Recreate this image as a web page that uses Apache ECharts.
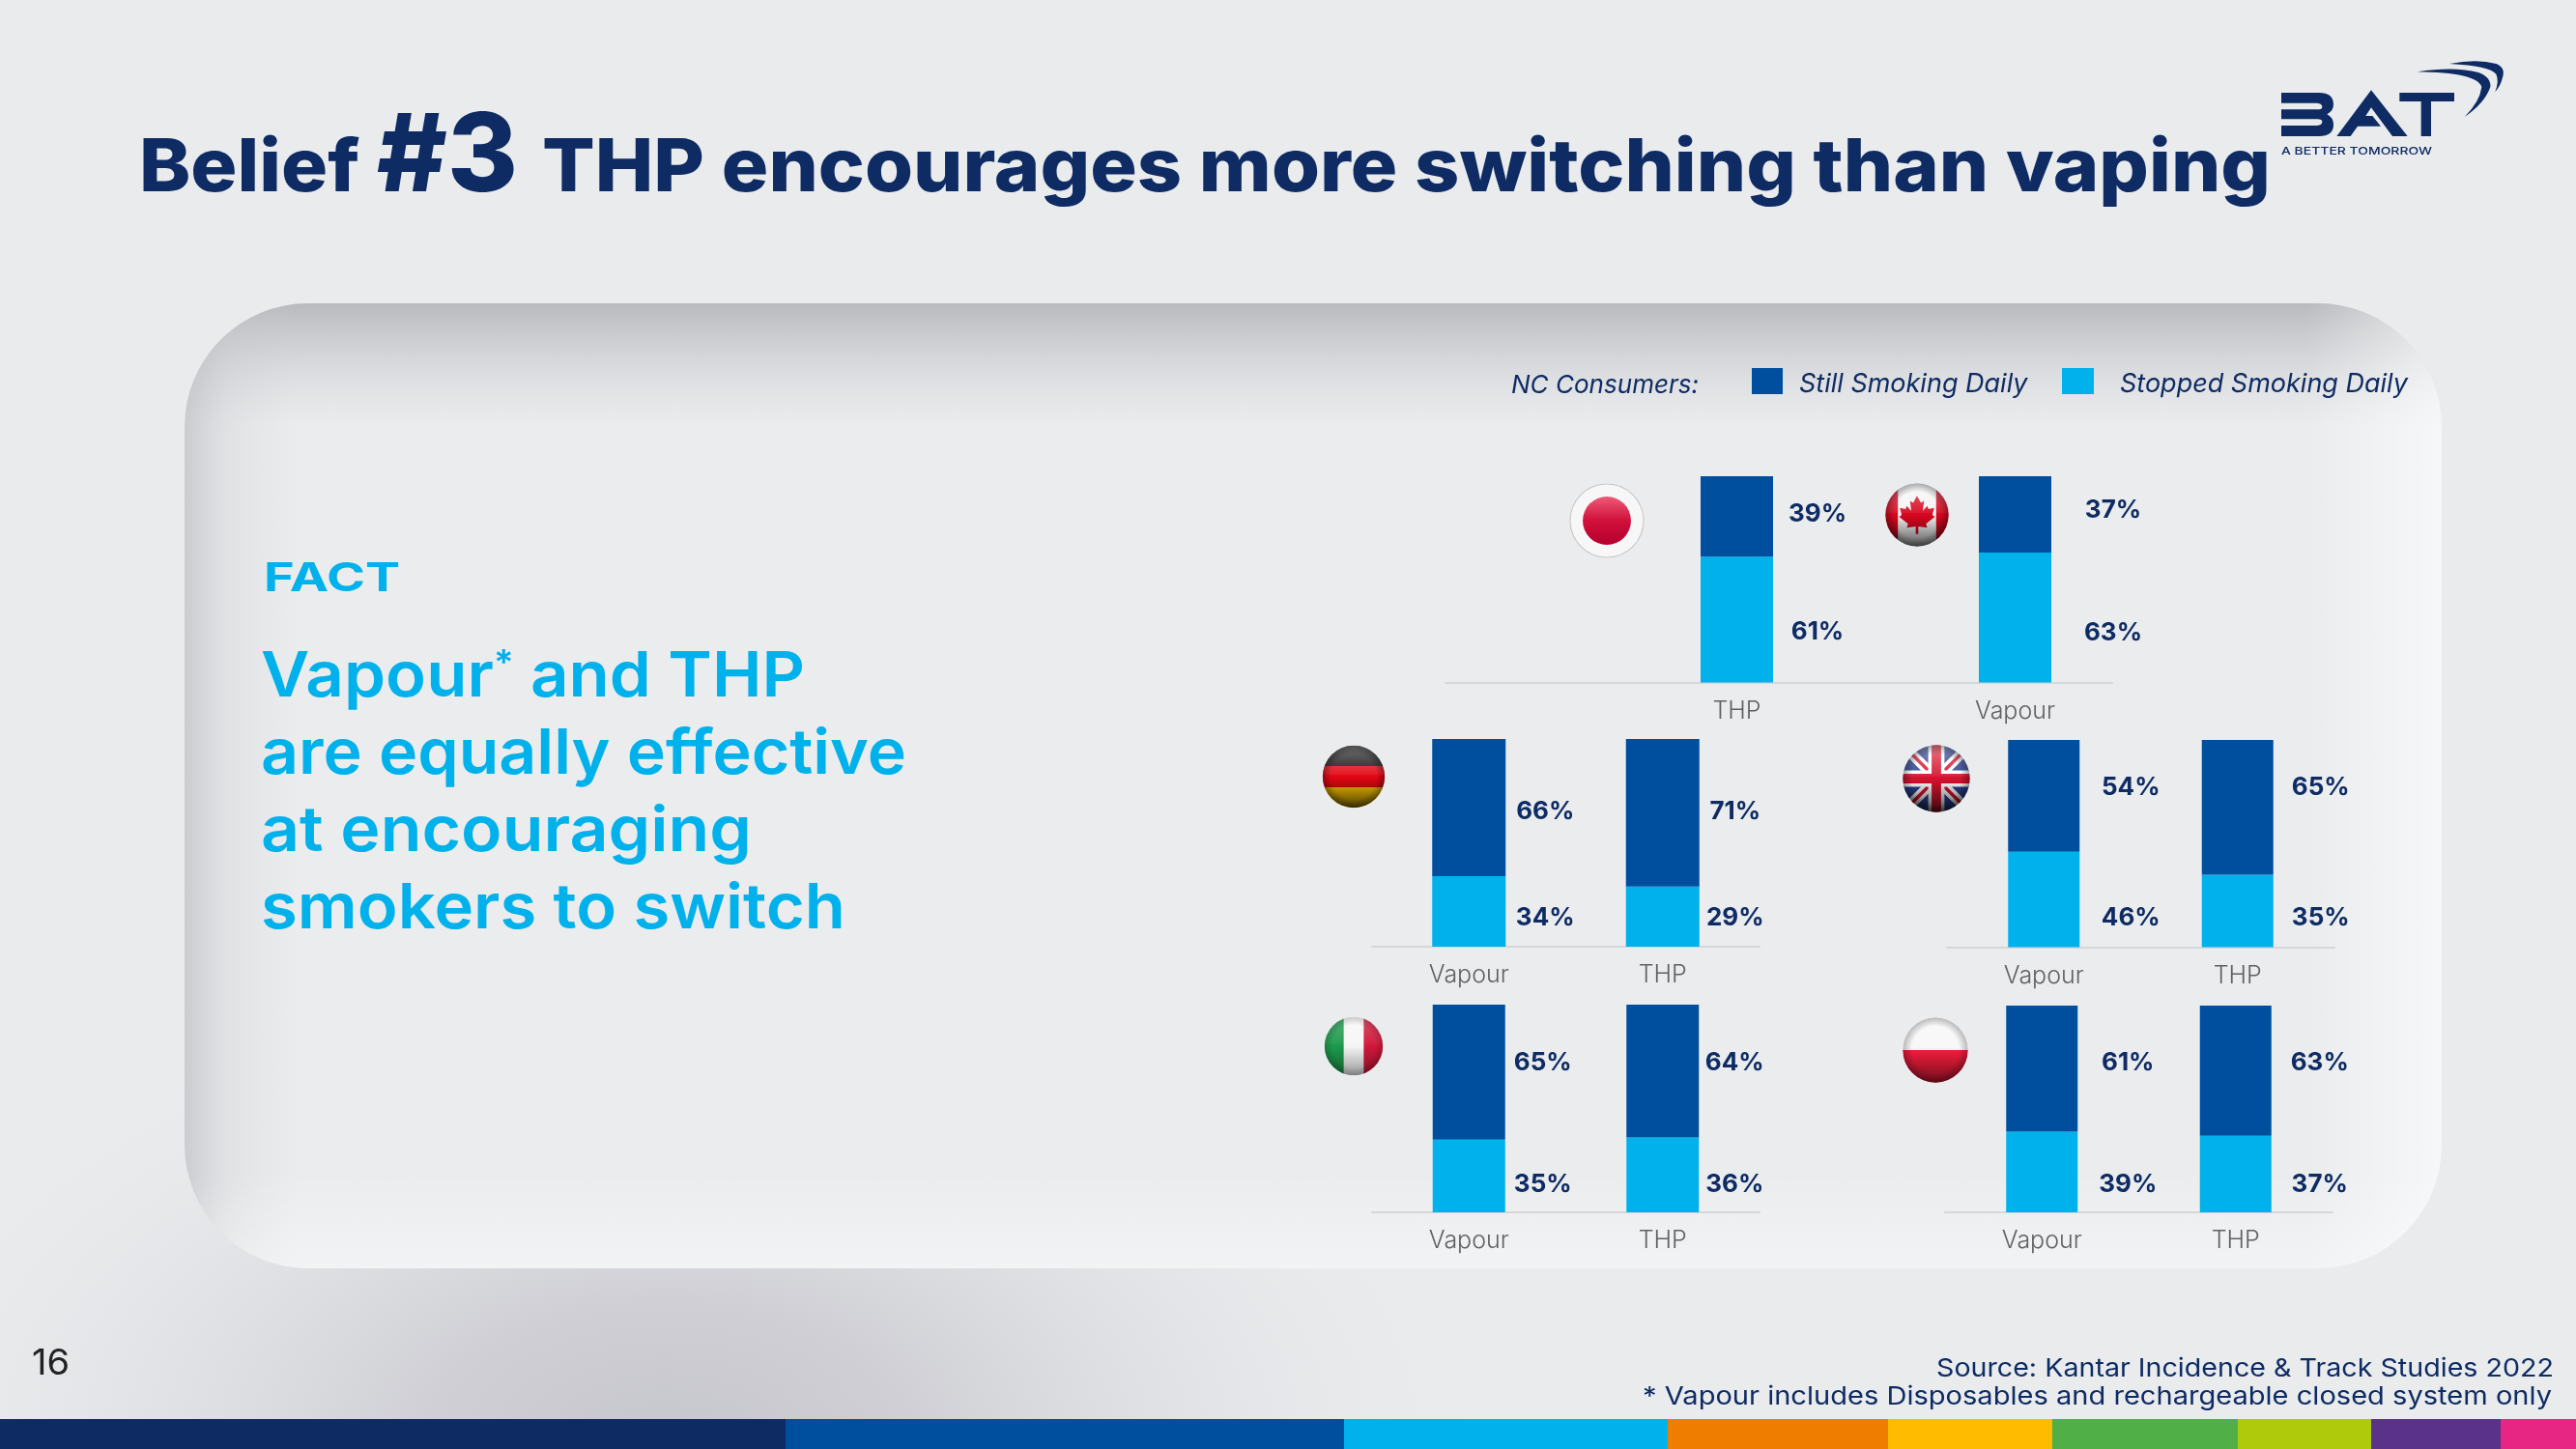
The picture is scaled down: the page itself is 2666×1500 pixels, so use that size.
<!DOCTYPE html>
<html>
<head>
<meta charset="utf-8">
<style>html,body{margin:0;padding:0;background:#E9EBED}#main{width:2666px;height:1500px}</style>
<script src="https://cdn.jsdelivr.net/npm/echarts@6/dist/echarts.min.js"></script>
</head>
<body>
<div id="main"></div>
<script>
// ---------- data ----------
const stillName = 'Still Smoking Daily';
const stoppedName = 'Stopped Smoking Daily';
const topCategories = ['THP', 'Vapour'];      // Japan (THP) and Canada (Vapour)
const topStill = [39, 37];
const topStopped = [61, 63];
const germanyCategories = ['Vapour', 'THP'];
const germanyStill = [66, 71];
const germanyStopped = [34, 29];
const ukCategories = ['Vapour', 'THP'];
const ukStill = [54, 65];
const ukStopped = [46, 35];
const italyCategories = ['Vapour', 'THP'];
const italyStill = [65, 64];
const italyStopped = [35, 36];
const polandCategories = ['Vapour', 'THP'];
const polandStill = [61, 63];
const polandStopped = [39, 37];

// ---------- layout ----------
const NAVY = '#0E2B63', BLUE = '#004F9F', CYAN = '#00B1EB';
const FONT = 'Inter';
const panels = [
  {cats: topCategories, still: topStill, stopped: topStopped, left: 1653.5, width: 576, top: 493, bottom: 706.5, barW: 75,
   dx: [46, 64], stillY: [532, 528], stoppedY: [654, 655], hideLine: true},
  {cats: germanyCategories, still: germanyStill, stopped: germanyStopped, left: 1420, width: 401, top: 765, bottom: 980, barW: 76,
   dx: [41, 37], stillY: [840, 840], stoppedY: [950, 950]},
  {cats: ukCategories, still: ukStill, stopped: ukStopped, left: 2015, width: 401, top: 766, bottom: 980.5, barW: 74,
   dx: [53, 49], stillY: [815, 815], stoppedY: [950, 950]},
  {cats: italyCategories, still: italyStill, stopped: italyStopped, left: 1420, width: 401, top: 1040, bottom: 1255, barW: 75,
   dx: [39, 37], stillY: [1100, 1100], stoppedY: [1226, 1226]},
  {cats: polandCategories, still: polandStill, stopped: polandStopped, left: 2013, width: 401, top: 1041, bottom: 1255, barW: 74,
   dx: [52, 50], stillY: [1100, 1100], stoppedY: [1226, 1226]}
];
const footerStripes = [
  [0, 813, NAVY], [813, 1391, BLUE], [1391, 1726, CYAN], [1726, 1954, '#EF7D00'], [1954, 2124, '#FFBB00'],
  [2124, 2316, '#50AF47'], [2316, 2454, '#AFCA0B'], [2454, 2588, '#5A328A'], [2588, 2666, '#E72582']
];

// ---------- helpers ----------
const mctx = document.createElement('canvas').getContext('2d');
function measure(text, size, weight, style) {
  mctx.font = (style || 'normal') + ' ' + weight + ' ' + size + 'px ' + FONT;
  return mctx.measureText(text).width;
}
const MID = 0.29; // distance from baseline to the text's middle, as a share of the font size
// text with its baseline at y, starting at x, stretched so it spans `width`
function label(text, x, baseline, size, weight, color, width, style) {
  const sx = width ? width / measure(text, size, weight, style) : 1;
  return {type: 'text', x: x, y: baseline - MID * size, scaleX: sx, z: 5, silent: true,
    style: {text: text, fill: color, fontFamily: FONT, fontSize: size, fontWeight: weight, fontStyle: style || 'normal',
            textAlign: 'left', textVerticalAlign: 'middle', verticalAlign: 'middle'}};
}
function svgUri(svg) { return 'data:image/svg+xml;charset=utf-8,' + encodeURIComponent(svg); }
function flag(cx, cy, r, inner, gloss) {
  const g = gloss === undefined ? 1 : gloss;
  const svg = '<svg xmlns="http://www.w3.org/2000/svg" width="200" height="200" viewBox="-50 -50 100 100">' +
    '<defs><clipPath id="c"><circle r="49.5"/></clipPath>' +
    '<linearGradient id="s" x1="0" y1="0" x2="0" y2="1">' +
      '<stop offset="0" stop-color="#fff" stop-opacity="' + (0.42 * g) + '"/>' +
      '<stop offset="0.46" stop-color="#fff" stop-opacity="' + (0.08 * g) + '"/>' +
      '<stop offset="0.5" stop-color="#000" stop-opacity="0"/>' +
      '<stop offset="1" stop-color="#000" stop-opacity="' + (0.7 * g) + '"/></linearGradient>' +
    '<radialGradient id="e"><stop offset="0.72" stop-color="#000" stop-opacity="0"/><stop offset="1" stop-color="#000" stop-opacity="' + (0.35 * g) + '"/></radialGradient>' +
    '</defs><g clip-path="url(#c)">' + inner +
    '<circle r="50" fill="url(#s)"/><circle r="50" fill="url(#e)"/></g></svg>';
  return {type: 'image', z: 3, silent: true, style: {image: svgUri(svg), x: cx - r, y: cy - r, width: 2 * r, height: 2 * r}};
}
const flags = [
  flag(1663, 539, 39,
    '<rect x="-50" y="-50" width="100" height="100" fill="#f7f7f7"/><circle r="49" fill="none" stroke="#c4c4c4" stroke-width="2"/>' +
    '<defs><linearGradient id="j" x1="0" y1="0" x2="0" y2="1"><stop offset="0" stop-color="#ee5a78"/><stop offset="0.5" stop-color="#d0103a"/><stop offset="1" stop-color="#b4002e"/></linearGradient></defs>' +
    '<circle r="32" fill="url(#j)"/>', 0),
  flag(1984, 533, 33,
    '<rect x="-50" y="-50" width="100" height="100" fill="#f4f4f4"/><rect x="-50" y="-50" width="20" height="100" fill="#d8061e"/><rect x="30" y="-50" width="20" height="100" fill="#d8061e"/>' +
    '<path fill="#d8061e" d="M0-30 L6-19 L11-22 L9-6 L16-14 L18-9 L27-11 L24 0 L28 3 L14 14 L16 20 L2 18 L2 30 L-2 30 L-2 18 L-16 20 L-14 14 L-28 3 L-24 0 L-27-11 L-18-9 L-16-14 L-9-6 L-11-22 L-6-19 Z"/>', 0.95),
  flag(1401, 804, 32.5,
    '<rect x="-50" y="-50" width="100" height="34" fill="#111"/><rect x="-50" y="-17" width="100" height="34" fill="#e30613"/><rect x="-50" y="17" width="100" height="34" fill="#ffc800"/>', 1),
  flag(2004, 806, 35,
    '<rect x="-50" y="-50" width="100" height="100" fill="#2a3f8f"/>' +
    '<path d="M-50-50 L50 50 M50-50 L-50 50" stroke="#fff" stroke-width="15"/><path d="M-50-50 L50 50 M50-50 L-50 50" stroke="#d5122e" stroke-width="5"/>' +
    '<path d="M0-50 V50 M-50 0 H50" stroke="#fff" stroke-width="24"/><path d="M0-50 V50 M-50 0 H50" stroke="#d5122e" stroke-width="14"/>', 1),
  flag(1401, 1083, 30.5,
    '<rect x="-50" y="-50" width="34" height="100" fill="#1d9a4c"/><rect x="-17" y="-50" width="34" height="100" fill="#f6f6f6"/><rect x="17" y="-50" width="34" height="100" fill="#d1173a"/>', 0.55),
  flag(2003, 1087, 34,
    '<rect x="-50" y="-50" width="100" height="50" fill="#f7f7f7"/><rect x="-50" y="0" width="100" height="50" fill="#f01c3c"/>', 0.75)
];

const logoSvg = '<svg xmlns="http://www.w3.org/2000/svg" width="1098" height="480" viewBox="0 0 1098 480"><g fill="' + NAVY + '">' +
  '<path d="M183 168H300Q345 168 345 205Q345 225 325 235Q345 245 345 268Q345 303 300 303H183V270H290Q310 270 310 258Q310 250 295 250H183V220H295Q310 220 310 212Q310 200 290 200H183Z"/>' +
  '<path fill-rule="evenodd" d="M355 303L462 160L575 303ZM462 214L528 303H398L420 272H492L466 240H445Z"/>' +
  '<path d="M550 168H720V195H648V303H617V195H550Z"/>' +
  '<path d="M605 103Q720 85 795 105Q835 120 832 150Q815 200 752 243Q800 195 805 150Q790 105 605 103Z"/>' +
  '<path d="M705 78Q790 62 850 78Q880 90 870 120Q865 145 847 165Q860 130 850 110Q830 85 705 78Z"/>' +
  '</g></svg>';

// ---------- decoration ----------
const PANEL = {x: 191, y: 314, width: 2336, height: 999, r: 128};
const lin = (x2, y2, stops) => ({type: 'linear', x: 0, y: 0, x2: x2, y2: y2, colorStops: stops});
const decoration = [
  {type: 'rect', z: -20, silent: true, shape: {x: 0, y: 0, width: 2666, height: 1500}, style: {fill: '#E9EBED'}},
  // soft shadow under the panel
  {type: 'circle', z: -19, silent: true, x: 690, y: 1490, scaleX: 1.75, scaleY: 1, shape: {cx: 0, cy: 0, r: 470},
   style: {fill: {type: 'radial', x: 0.5, y: 0.5, r: 0.5, colorStops: [
     {offset: 0, color: 'rgba(198,198,205,1)'}, {offset: 0.3, color: 'rgba(204,204,210,0.9)'}, {offset: 0.65, color: 'rgba(218,219,223,0.55)'}, {offset: 1, color: 'rgba(230,231,234,0)'}]}}},
  {type: 'rect', z: -18, silent: true, shape: PANEL, style: {fill: '#EAECEE'}},
  {type: 'rect', z: -17, silent: true, shape: PANEL, style: {fill: lin(0, 1, [
    {offset: 0, color: 'rgba(165,167,172,0.72)'}, {offset: 0.055, color: 'rgba(175,177,182,0.38)'}, {offset: 0.13, color: 'rgba(200,202,206,0)'}, {offset: 1, color: 'rgba(200,202,206,0)'}])}},
  {type: 'rect', z: -16, silent: true, shape: PANEL, style: {fill: lin(1, 0, [
    {offset: 0, color: 'rgba(170,172,177,0.5)'}, {offset: 0.02, color: 'rgba(190,192,196,0.22)'}, {offset: 0.05, color: 'rgba(200,202,206,0)'}, {offset: 1, color: 'rgba(200,202,206,0)'}])}},
  {type: 'rect', z: -15, silent: true, shape: PANEL, style: {fill: lin(1, 0, [
    {offset: 0, color: 'rgba(255,255,255,0)'}, {offset: 0.94, color: 'rgba(255,255,255,0)'}, {offset: 1, color: 'rgba(255,255,255,0.6)'}])}},
  {type: 'rect', z: -14, silent: true, shape: PANEL, style: {fill: lin(0, 1, [
    {offset: 0, color: 'rgba(255,255,255,0)'}, {offset: 0.9, color: 'rgba(255,255,255,0)'}, {offset: 1, color: 'rgba(255,255,255,0.38)'}])}}
];
footerStripes.forEach(s => decoration.push({type: 'rect', z: 4, silent: true,
  shape: {x: s[0], y: 1469, width: s[1] - s[0], height: 31}, style: {fill: s[2]}}));

const vapourSize = 65;
const vapourParts = measure('Vapour', vapourSize, 600) + measure('*', 36, 600) + measure(' and THP', vapourSize, 600);
const texts = [
  label('Belief', 144, 197, 76, 800, NAVY, 228),
  label('#3', 390, 197, 112, 800, NAVY, 146),
  label('THP encourages more switching than vaping', 561, 197, 76, 800, NAVY, 1789),
  label('FACT', 273, 612, 41, 700, CYAN, 141),
  {type: 'text', x: 270, y: 720.5 - MID * vapourSize, scaleX: 563 / vapourParts, z: 5, silent: true,
   style: {text: '{a|Vapour}{s|*}{a| and THP}', verticalAlign: 'middle', textVerticalAlign: 'middle', textAlign: 'left', fill: CYAN,
     fontFamily: FONT, fontSize: vapourSize, fontWeight: 600,
     rich: {a: {fill: CYAN, fontFamily: FONT, fontSize: vapourSize, fontWeight: 600},
            s: {fill: CYAN, fontFamily: FONT, fontSize: 36, fontWeight: 600, verticalAlign: 'top'}}}},
  label('are equally effective', 270, 800.5, vapourSize, 600, CYAN, 668),
  label('at encouraging', 270, 880.5, vapourSize, 600, CYAN, 508),
  label('smokers to switch', 270, 960.5, vapourSize, 600, CYAN, 605),
  label('NC Consumers:', 1564, 407, 26, 400, NAVY, 194, 'italic'),
  label('16', 33, 1423, 37, 400, '#222222', 39),
  label('Source: Kantar Incidence & Track Studies 2022', 2004, 1425, 26, 400, NAVY, 639),
  label('* Vapour includes Disposables and rechargeable closed system only', 1700, 1454, 26, 400, NAVY, 941),
  label('A BETTER TOMORROW', 2361, 160, 11, 500, NAVY, 156),
  {type: 'image', z: 5, silent: true, style: {image: svgUri(logoSvg), x: 2300, y: 40, width: 366, height: 160}}
];

// ---------- chart ----------
const grids = [], xAxes = [], yAxes = [], series = [];
const axisLine = {show: true, onZero: false, lineStyle: {color: '#D6D7D9', width: 2}};
panels.forEach((p, i) => {
  const h = p.bottom - p.top;
  grids.push({left: p.left, width: p.width, top: p.top, height: h, containLabel: false});
  xAxes.push({type: 'category', gridIndex: i, data: p.cats,
    axisLine: p.hideLine ? {show: false} : axisLine, axisTick: {show: false},
    axisLabel: {color: '#5F6164', fontFamily: FONT, fontSize: 25, fontWeight: 300, margin: 17}});
  yAxes.push({type: 'value', gridIndex: i, min: 0, max: 100, show: false});
  const lab = (vals, ys, lower) => vals.map((v, k) => {
    const centre = lower ? p.bottom - h * v / 200 : p.top + h * v / 200;
    return {value: v, label: {offset: [p.dx[k], ys[k] - centre]}};
  });
  const common = {type: 'bar', xAxisIndex: i, yAxisIndex: i, stack: 'c' + i, barWidth: p.barW, silent: true,
    label: {show: true, position: 'right', distance: 0, align: 'center', verticalAlign: 'middle', formatter: '{c}%',
            color: NAVY, fontFamily: FONT, fontSize: 26, fontWeight: 700}};
  series.push(Object.assign({}, common, {name: stoppedName, itemStyle: {color: CYAN}, data: lab(p.stopped, p.stoppedY, true)}));
  series.push(Object.assign({}, common, {name: stillName, itemStyle: {color: BLUE}, data: lab(p.still, p.stillY, false)}));
});
// shared baseline under the Japan and Canada bars
grids.push({left: 1496, width: 690, top: 493, height: 213.5});
xAxes.push({type: 'category', gridIndex: panels.length, data: [''], axisLine: axisLine, axisTick: {show: false}, axisLabel: {show: false}});
yAxes.push({type: 'value', gridIndex: panels.length, min: 0, max: 100, show: false});

const legendFont = {color: NAVY, fontFamily: FONT, fontSize: 27, fontStyle: 'italic', fontWeight: 400};
const legendText = leftGap => Object.assign({}, legendFont, {
  rich: {t: Object.assign({}, legendFont, {padding: [7, 0, 0, leftGap]})}
});
const legendLabel = name => '{t|' + name + '}';
const chart = echarts.init(document.getElementById('main'), null, {width: 2666, height: 1500});
chart.setOption({
  animation: false,
  backgroundColor: '#E9EBED',
  legend: [
    {left: 1813, top: 381, padding: 0, itemWidth: 32, itemHeight: 27, icon: 'rect', selectedMode: false, data: [stillName],
     formatter: legendLabel, textStyle: legendText(12)},
    {left: 2134, top: 381, padding: 0, itemWidth: 33, itemHeight: 27, icon: 'rect', selectedMode: false, data: [stoppedName],
     formatter: legendLabel, textStyle: legendText(22)}
  ],
  grid: grids, xAxis: xAxes, yAxis: yAxes, series: series,
  graphic: {elements: decoration.concat(flags, texts)}
});
</script>
</body>
</html>
